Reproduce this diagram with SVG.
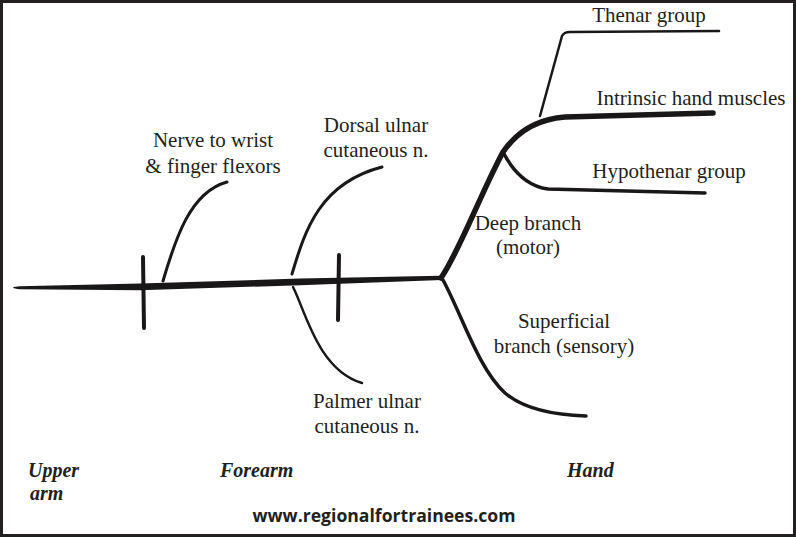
<svg xmlns="http://www.w3.org/2000/svg" width="796" height="537" viewBox="0 0 796 537">
<style>
.lbl{font-family:"Liberation Serif","Times New Roman","DejaVu Serif",serif;font-size:21px;fill:#231f20;text-anchor:middle}
.reg{font-family:"Liberation Serif","Times New Roman","DejaVu Serif",serif;font-size:20px;font-weight:bold;font-style:italic;fill:#231f20}
.web{font-family:"Open Sans","Noto Sans",sans-serif;font-size:17.6px;font-weight:bold;fill:#231f20;text-anchor:middle}
.n{fill:none;stroke:#1a1718;stroke-linecap:round;stroke-linejoin:round}
</style>
<rect x="1.5" y="1.5" width="793" height="534" fill="#fff" stroke="#231f20" stroke-width="3"/>
<g id="connectors">
<path id="main-nerve" d="M13,287.6 Q14,286.5 20,286.3 L140,283.5 L300,278.5 L440,275.8 L442,280 L300,285.2 L140,290.2 L20,289.2 Q14,289 13,287.6 Z" fill="#1a1718"/>
<path id="tick1" class="n" stroke-width="4" d="M143,257 L144,328"/>
<path id="tick2" class="n" stroke-width="4" d="M339,255 L338,320"/>
<path id="br-flexors" class="n" stroke-width="3" d="M163,281 C175,240 190,192 227,182"/>
<path id="br-dorsal" class="n" stroke-width="3" d="M292,274 C305,230 320,183 382,167"/>
<path id="br-palmer" class="n" stroke-width="2.5" d="M293,287 C305,310 318,370 362,383"/>
<path id="br-deep" class="n" stroke-width="5.5" d="M441,278 C460,250 480,195 503,152 Q525,120 565,117 L713,113"/>
<path id="br-thenar" class="n" stroke-width="2.5" d="M540,116 L562,36 Q564,32 570,32 L719,31"/>
<path id="br-hypothenar" class="n" stroke-width="3.5" d="M503,152 Q520,185 548,189 L705,193"/>
<path id="br-superficial" class="n" stroke-width="3.5" d="M443,280 C462,315 478,368 505,393 C525,410 555,415 586,416"/>
</g>
<g id="n-flexors"><text class="lbl" x="213" y="147">Nerve to wrist</text><text class="lbl" x="213" y="173">&amp; finger flexors</text></g>
<g id="n-dorsal"><text class="lbl" x="376" y="132">Dorsal ulnar</text><text class="lbl" x="376" y="157">cutaneous n.</text></g>
<g id="n-thenar"><text class="lbl" x="649" y="22">Thenar group</text></g>
<g id="n-intrinsic"><text class="lbl" x="691" y="105">Intrinsic hand muscles</text></g>
<g id="n-hypothenar"><text class="lbl" x="669" y="178">Hypothenar group</text></g>
<g id="n-deep"><text class="lbl" x="528" y="230">Deep branch</text><text class="lbl" x="528" y="254">(motor)</text></g>
<g id="n-superficial"><text class="lbl" x="564" y="328">Superficial</text><text class="lbl" x="564" y="353">branch (sensory)</text></g>
<g id="n-palmer"><text class="lbl" x="367" y="408">Palmer ulnar</text><text class="lbl" x="367" y="433">cutaneous n.</text></g>
<g id="n-upperarm"><text class="reg" x="28" y="477">Upper</text><text class="reg" x="30" y="500">arm</text></g>
<g id="n-forearm"><text class="reg" x="220" y="477">Forearm</text></g>
<g id="n-hand"><text class="reg" x="567" y="477">Hand</text></g>
<g id="n-web"><text class="web" x="384" y="522">www.regionalfortrainees.com</text></g>
</svg>
